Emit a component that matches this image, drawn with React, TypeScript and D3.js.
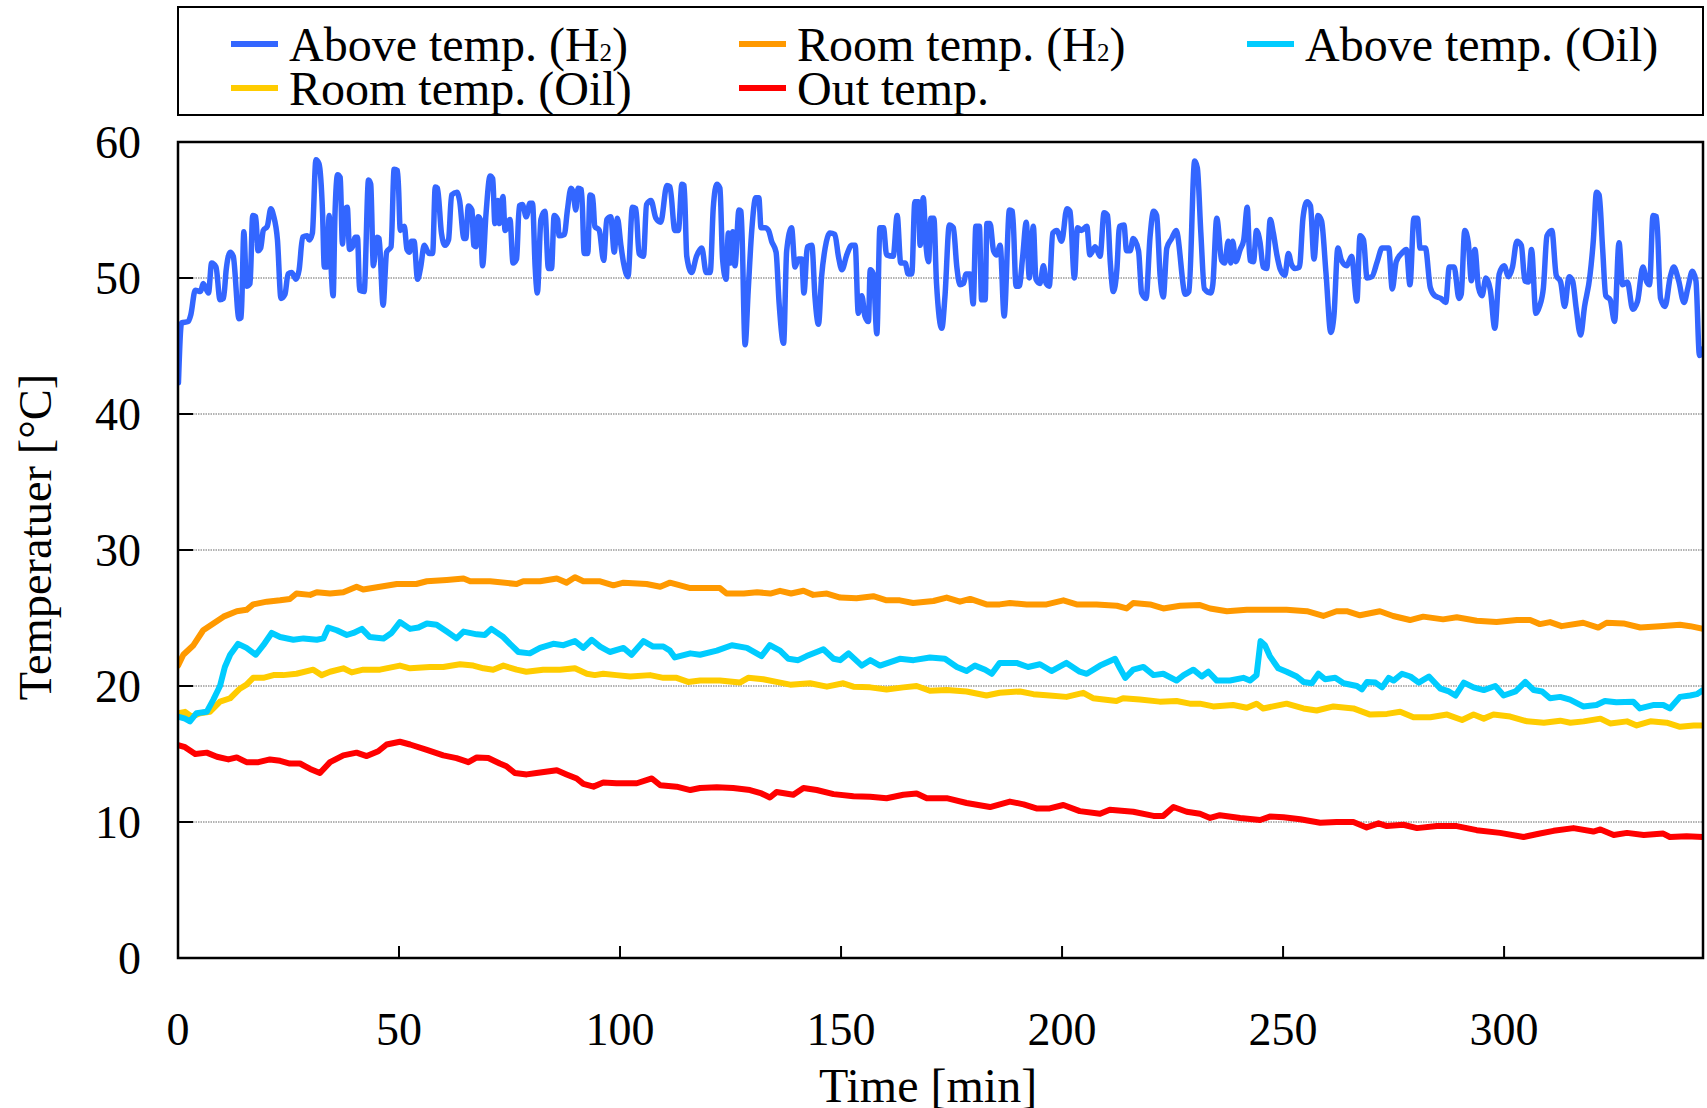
import React from 'react';
import * as d3 from 'd3';

// time [min], temperature [°C]
const aboveH2: [number, number][] = [
  [0.1, 42.3], [0.8, 46.7], [2.3, 46.8], [2.9, 47.3], [3.9, 49.1], [5.1, 49.0], [5.7, 49.6], [6.9, 48.9], [7.6, 51.1], [8.6, 50.8],
  [9.5, 48.4], [10.3, 48.5], [10.9, 50.6], [11.8, 51.9], [12.5, 51.6], [13.8, 47.0], [14.3, 47.1], [14.9, 53.4], [15.5, 49.4], [16.3, 49.6],
  [16.9, 54.6], [17.6, 54.5], [18.1, 52.0], [18.7, 52.2], [19.3, 53.5], [20.2, 53.8], [21.0, 55.1], [21.6, 54.6], [22.5, 52.8], [23.3, 48.5],
  [24.2, 48.8], [24.9, 50.3], [25.7, 50.4], [26.7, 49.9], [27.4, 50.6], [28.2, 53.0], [29.2, 53.1], [29.7, 52.8], [30.4, 53.3], [31.2, 58.7],
  [31.9, 58.4], [32.7, 54.8], [33.1, 50.8], [33.7, 50.8], [34.2, 54.6], [34.6, 51.1], [35.1, 48.7], [35.5, 54.5], [36.1, 57.6], [36.7, 57.4],
  [37.2, 52.5], [37.7, 55.0], [38.3, 55.2], [38.8, 52.1], [39.5, 52.3], [40.1, 53.0], [40.6, 53.0], [41.1, 49.1], [42.1, 49.0], [43.1, 57.2],
  [43.6, 56.9], [44.2, 50.9], [45.0, 53.0], [45.5, 52.9], [46.4, 48.0], [47.2, 51.9], [48.2, 52.3], [48.9, 58.0], [49.7, 57.9], [50.3, 53.5],
  [51.2, 53.8], [51.8, 52.1], [52.4, 51.9], [52.8, 52.7], [53.4, 52.7], [54.2, 49.9], [54.9, 50.8], [55.7, 52.4], [56.8, 51.8], [57.6, 51.8],
  [58.2, 56.7], [58.7, 56.6], [59.6, 53.3], [60.4, 52.4], [61.2, 52.8], [61.9, 56.1], [63.1, 56.3], [63.7, 55.7], [64.7, 52.9], [65.1, 52.9],
  [65.7, 55.3], [66.5, 55.0], [66.9, 52.4], [67.4, 52.3], [67.9, 54.5], [68.4, 54.3], [68.9, 50.9], [69.7, 54.8], [70.6, 57.5], [71.2, 57.3],
  [71.7, 54.0], [72.3, 55.7], [72.7, 54.0], [73.5, 56.0], [74.0, 53.5], [75.1, 54.3], [75.8, 51.1], [76.6, 51.4], [77.2, 55.3], [77.9, 55.4],
  [78.8, 54.5], [79.6, 55.5], [80.2, 55.5], [80.8, 50.8], [81.3, 48.9], [82.1, 54.3], [83.0, 54.9], [83.8, 50.7], [84.5, 50.7], [85.1, 54.6],
  [85.9, 54.3], [86.2, 53.1], [87.4, 53.2], [88.1, 55.0], [88.9, 56.6], [89.4, 56.3], [90.0, 55.0], [90.5, 56.6], [91.3, 56.5], [91.9, 51.8],
  [92.7, 51.8], [93.2, 56.1], [93.8, 56.0], [94.3, 53.8], [95.3, 53.5], [96.3, 51.3], [97.0, 54.3], [97.9, 54.5], [98.7, 51.9], [99.4, 54.4],
  [100.2, 52.4], [100.8, 51.1], [101.8, 50.1], [102.8, 55.2], [103.6, 55.1], [104.3, 51.8], [105.3, 51.6], [106.0, 55.4], [107.0, 55.7], [108.1, 54.4],
  [109.2, 54.1], [110.6, 56.8], [111.3, 56.7], [112.4, 53.5], [113.2, 53.5], [114.0, 56.9], [114.5, 56.8], [115.1, 51.6], [116.2, 50.4], [117.3, 51.6],
  [118.5, 52.2], [119.5, 50.4], [120.4, 50.4], [121.1, 55.2], [121.9, 56.9], [122.6, 56.6], [123.2, 51.4], [124.0, 49.9], [124.5, 53.3], [125.0, 51.1],
  [125.5, 53.4], [126.0, 50.9], [126.9, 55.0], [127.4, 54.9], [128.3, 45.1], [129.0, 49.1], [129.8, 53.5], [130.7, 55.9], [131.4, 55.9], [131.9, 53.7],
  [132.8, 53.7], [133.6, 53.5], [134.3, 52.7], [135.3, 51.9], [136.0, 48.1], [137.0, 45.2], [137.7, 52.0], [138.8, 53.7], [139.6, 50.8], [140.3, 51.4],
  [141.1, 51.4], [141.6, 48.9], [142.4, 52.3], [143.4, 52.4], [144.1, 48.6], [144.9, 46.6], [145.6, 50.1], [146.4, 52.2], [147.5, 53.3], [148.6, 53.2],
  [149.4, 51.6], [150.2, 50.6], [151.3, 51.7], [152.4, 52.4], [153.2, 52.4], [153.9, 47.4], [154.7, 48.7], [155.4, 47.2], [156.2, 46.8], [156.6, 50.6],
  [157.3, 50.3], [158.1, 45.9], [158.8, 53.7], [159.6, 53.7], [160.3, 51.7], [161.8, 51.6], [162.7, 54.6], [163.5, 51.1], [164.5, 51.1], [165.2, 50.3],
  [166.0, 50.3], [166.7, 55.6], [167.5, 55.6], [167.9, 52.4], [168.6, 55.9], [169.2, 52.5], [169.8, 51.2], [170.3, 54.4], [171.0, 54.4], [171.6, 49.6],
  [172.8, 46.3], [173.5, 48.6], [174.5, 53.9], [175.4, 53.7], [176.2, 50.8], [176.9, 49.5], [177.7, 49.6], [178.3, 50.3], [179.2, 50.3], [179.9, 48.1],
  [180.5, 53.8], [181.3, 53.8], [181.8, 48.4], [182.6, 48.4], [183.0, 54.0], [183.7, 54.0], [184.5, 52.0], [185.2, 51.7], [186.0, 52.4], [186.9, 47.2],
  [188.1, 55.0], [188.8, 54.9], [189.6, 49.4], [190.3, 49.4], [191.1, 51.6], [191.9, 54.1], [192.6, 50.0], [193.5, 53.8], [194.1, 49.9], [195.0, 49.6],
  [195.8, 50.9], [196.4, 49.6], [197.1, 49.4], [197.9, 53.3], [198.8, 53.5], [199.9, 52.7], [201.1, 55.1], [201.8, 54.9], [202.8, 50.0], [203.5, 53.7],
  [204.4, 53.5], [205.6, 53.8], [206.3, 51.7], [207.5, 52.3], [208.6, 51.6], [209.5, 54.8], [210.3, 54.6], [210.9, 51.2], [211.6, 49.0], [212.4, 50.6],
  [213.0, 53.8], [214.0, 53.9], [214.6, 52.0], [215.4, 52.0], [216.1, 52.9], [217.3, 52.0], [218.0, 48.9], [219.0, 48.5], [219.9, 53.0], [220.7, 54.9],
  [221.4, 54.6], [222.2, 50.1], [222.9, 48.6], [223.7, 52.2], [224.8, 52.9], [225.8, 53.5], [227.9, 48.8], [228.7, 49.0], [230.0, 58.6], [230.6, 58.1],
  [231.4, 53.3], [232.2, 49.2], [233.6, 48.9], [234.1, 49.5], [235.0, 54.4], [236.1, 51.3], [236.8, 51.1], [237.6, 52.7], [238.2, 51.1], [238.6, 52.7],
  [239.3, 51.2], [240.3, 52.1], [241.1, 52.8], [241.9, 55.2], [242.5, 51.3], [243.3, 51.2], [244.0, 53.5], [244.8, 52.6], [245.5, 50.8], [246.3, 50.7],
  [247.1, 54.3], [247.8, 53.3], [248.6, 51.7], [249.4, 50.6], [250.4, 50.2], [251.2, 51.8], [251.9, 51.0], [252.7, 50.7], [253.7, 50.8], [254.5, 54.4],
  [255.4, 55.6], [256.2, 55.3], [257.0, 51.4], [257.9, 54.6], [258.7, 54.2], [259.7, 50.4], [260.8, 46.0], [261.5, 47.2], [262.4, 52.2], [263.2, 51.3],
  [264.4, 50.9], [265.5, 51.6], [266.7, 48.3], [267.4, 53.1], [268.2, 52.8], [269.0, 50.0], [270.1, 50.1], [271.3, 51.2], [272.4, 52.2], [273.9, 52.2],
  [274.7, 49.2], [275.6, 51.2], [276.8, 51.8], [277.9, 52.1], [278.7, 49.5], [279.6, 54.4], [280.4, 54.4], [281.0, 52.2], [282.2, 52.2], [283.3, 49.3],
  [284.3, 48.7], [285.7, 48.5], [286.8, 48.2], [287.6, 50.8], [288.7, 50.8], [289.8, 48.5], [290.3, 48.8], [291.1, 53.5], [291.9, 52.6], [292.6, 49.8],
  [293.4, 52.1], [294.2, 49.3], [295.0, 48.7], [295.9, 50.0], [296.9, 49.1], [297.9, 46.3], [298.9, 50.3], [300.0, 50.9], [301.0, 50.1], [301.9, 50.8],
  [302.9, 52.7], [303.9, 52.4], [304.7, 49.8], [305.5, 49.7], [306.2, 52.1], [307.2, 47.4], [308.0, 47.9], [308.9, 49.3], [309.7, 53.1], [310.8, 53.5],
  [311.8, 50.2], [312.8, 49.7], [313.7, 47.9], [314.7, 50.1], [315.5, 49.8], [316.3, 47.8], [317.3, 45.8], [318.2, 47.9], [319.4, 50.1], [320.2, 52.8],
  [320.9, 56.3], [321.5, 56.1], [322.3, 52.1], [323.0, 48.7], [324.0, 48.4], [325.0, 46.8], [326.0, 52.6], [326.8, 49.5], [327.9, 49.7], [329.1, 47.7],
  [330.2, 48.3], [331.4, 50.8], [332.3, 49.7], [332.9, 49.5], [333.7, 54.6], [334.5, 54.5], [335.4, 48.5], [336.4, 47.9], [337.6, 50.1], [338.4, 50.8],
  [339.5, 49.8], [340.7, 48.2], [341.6, 49.3], [342.6, 50.5], [343.4, 49.8], [344.2, 44.3], [345, 44.8],
];

const roomH2: [number, number][] = [
  [0, 21.5], [1.2, 22.3], [3.5, 23.0], [5.7, 24.1], [8.0, 24.6], [10.3, 25.1], [13.3, 25.5], [15.5, 25.6], [17.0, 26.0], [20.1, 26.2],
  [23.1, 26.3], [25.3, 26.4], [26.8, 26.8], [29.9, 26.7], [31.4, 26.9], [34.4, 26.8], [37.4, 26.9], [40.4, 27.3], [41.9, 27.1], [45.7, 27.3],
  [49.5, 27.5], [53.9, 27.5], [56.3, 27.7], [60.8, 27.8], [64.6, 27.9], [66.1, 27.7], [70.6, 27.7], [76.6, 27.5], [78.1, 27.7], [81.9, 27.7],
  [85.7, 27.9], [87.9, 27.6], [89.8, 28.0], [91.7, 27.7], [95.5, 27.7], [98.5, 27.4], [100.8, 27.6], [106.0, 27.5], [109.1, 27.3], [111.3, 27.6],
  [115.9, 27.2], [118.1, 27.2], [122.6, 27.2], [124.1, 26.8], [128.0, 26.8], [131.0, 26.9], [134.0, 26.8], [136.2, 27.0], [138.7, 26.8], [141.5, 27.0],
  [143.7, 26.7], [146.8, 26.8], [149.8, 26.5], [153.5, 26.45], [157.3, 26.6], [160.3, 26.3], [163.3, 26.3], [166.3, 26.1], [170.9, 26.25], [173.9, 26.5],
  [176.9, 26.2], [179.2, 26.4], [182.9, 26.0], [185.9, 26.0], [188.2, 26.1], [192.0, 26.0], [196.5, 26.0], [200.3, 26.3], [203.3, 26.0], [207.8, 26.0],
  [212.4, 25.9], [214.6, 25.7], [216.1, 26.1], [219.9, 26.0], [222.9, 25.7], [226.7, 25.9], [231.2, 25.95], [233.5, 25.7], [237.3, 25.5], [241.8, 25.6],
  [246.3, 25.6], [250.8, 25.6], [255.4, 25.5], [259.1, 25.15], [262.1, 25.5], [264.4, 25.5], [267.4, 25.2], [271.9, 25.5], [274.9, 25.15], [278.7, 24.85],
  [281.7, 25.1], [286.2, 24.9], [289.3, 25.05], [293.8, 24.8], [298.3, 24.7], [302.9, 24.85], [305.9, 24.85], [308.1, 24.55], [310.4, 24.7], [313.0, 24.4],
  [317.9, 24.65], [321.3, 24.3], [323.2, 24.65], [327.0, 24.6], [330.8, 24.3], [335.3, 24.4], [339.8, 24.5], [342.1, 24.4], [345, 24.2],
];

const aboveOil: [number, number][] = [
  [0, 17.75], [1.6, 17.6], [2.7, 17.4], [4.2, 18.0], [6.5, 18.1], [8.0, 19.0], [9.5, 20.0], [10.6, 21.4], [11.8, 22.3], [13.6, 23.1],
  [15.5, 22.8], [17.6, 22.3], [19.3, 23.0], [21.2, 23.9], [23.1, 23.6], [26.1, 23.4], [28.4, 23.5], [31.4, 23.4], [32.9, 23.5], [34.0, 24.3],
  [35.9, 24.1], [38.2, 23.75], [39.7, 23.9], [41.6, 24.2], [43.4, 23.6], [46.5, 23.5], [48.3, 23.9], [50.2, 24.7], [52.5, 24.2], [54.4, 24.3],
  [56.3, 24.6], [58.5, 24.5], [60.8, 24.0], [63.0, 23.5], [64.6, 24.0], [67.6, 23.8], [69.4, 23.75], [70.9, 24.2], [73.6, 23.6], [75.1, 23.1],
  [77.0, 22.5], [79.6, 22.4], [81.9, 22.8], [84.9, 23.1], [87.2, 23.0], [89.8, 23.3], [91.7, 22.8], [93.6, 23.4], [95.5, 22.9], [97.7, 22.5],
  [100.8, 22.8], [102.6, 22.3], [105.3, 23.3], [107.5, 22.9], [109.8, 22.9], [111.3, 22.6], [112.4, 22.1], [115.9, 22.4], [118.1, 22.3], [121.9, 22.6],
  [125.3, 23.0], [128.7, 22.8], [132.0, 22.2], [133.9, 23.0], [136.2, 22.6], [138.1, 22.0], [140.3, 21.9], [142.2, 22.2], [144.5, 22.5], [146.0, 22.7],
  [148.3, 22.0], [149.8, 21.9], [151.7, 22.4], [154.7, 21.5], [156.6, 21.9], [158.8, 21.5], [163.3, 22.0], [166.4, 21.9], [170.1, 22.1], [173.5, 22.0],
  [176.2, 21.4], [178.4, 21.1], [180.3, 21.5], [182.6, 21.2], [184.1, 20.9], [185.9, 21.7], [189.7, 21.7], [192.3, 21.4], [195.0, 21.6], [197.6, 21.1],
  [201.0, 21.7], [204.0, 21.05], [205.6, 20.9], [208.6, 21.5], [212.0, 22.0], [213.1, 21.3], [214.3, 20.6], [216.1, 21.2], [218.4, 21.4], [220.7, 20.8],
  [222.9, 20.9], [225.9, 20.4], [227.5, 20.8], [229.7, 21.2], [231.6, 20.7], [233.1, 21.05], [235.0, 20.4], [238.0, 20.4], [241.0, 20.6], [242.5, 20.4],
  [244.0, 20.8], [244.9, 23.3], [245.9, 23.0], [247.0, 22.2], [248.9, 21.3], [250.8, 21.05], [253.1, 20.7], [254.6, 20.3], [256.5, 20.2], [258.0, 20.9],
  [259.5, 20.5], [261.8, 20.6], [263.7, 20.2], [266.7, 20.0], [267.8, 19.75], [269.0, 20.3], [270.9, 20.25], [272.4, 19.9], [273.9, 20.6], [275.0, 20.4],
  [276.9, 20.9], [278.8, 20.7], [280.7, 20.25], [283.0, 20.7], [285.6, 19.8], [287.5, 19.6], [289.0, 19.3], [290.9, 20.25], [293.1, 19.9], [295.4, 19.7],
  [298.0, 20.0], [299.9, 19.3], [302.6, 19.6], [304.8, 20.3], [306.7, 19.7], [308.6, 19.6], [310.4, 19.1], [312.7, 19.2], [314.9, 19.0], [317.9, 18.5],
  [320.9, 18.6], [322.8, 18.9], [325.4, 18.8], [329.2, 18.85], [330.7, 18.35], [333.7, 18.6], [336.0, 18.6], [337.5, 18.35], [339.8, 19.2], [342.1, 19.3],
  [343.6, 19.4], [345, 19.7],
];

const roomOil: [number, number][] = [
  [0, 18.0], [1.6, 18.1], [3.1, 17.75], [5.0, 18.0], [7.2, 18.1], [9.5, 18.85], [11.8, 19.1], [14.0, 19.8], [15.5, 20.1], [17.0, 20.6],
  [19.3, 20.6], [21.6, 20.8], [23.8, 20.8], [26.8, 20.9], [30.6, 21.2], [32.5, 20.8], [34.4, 21.05], [37.4, 21.3], [39.3, 21.0], [41.9, 21.2],
  [45.7, 21.2], [50.2, 21.5], [52.5, 21.3], [57.0, 21.4], [60.0, 21.4], [63.8, 21.6], [66.8, 21.5], [69.1, 21.3], [71.3, 21.2], [73.6, 21.5],
  [76.6, 21.2], [78.8, 21.05], [82.6, 21.2], [86.4, 21.2], [89.8, 21.3], [92.5, 20.9], [94.3, 20.8], [96.2, 20.9], [99.2, 20.8], [102.3, 20.7],
  [106.8, 20.8], [109.8, 20.6], [112.8, 20.6], [115.4, 20.3], [118.1, 20.4], [122.6, 20.4], [127.1, 20.25], [129.0, 20.6], [132.4, 20.5], [135.4, 20.3],
  [138.5, 20.1], [143.0, 20.2], [146.8, 19.95], [150.5, 20.2], [152.8, 19.95], [156.6, 19.9], [160.3, 19.75], [164.1, 19.9], [167.1, 20.0], [170.1, 19.65],
  [173.9, 19.7], [178.4, 19.6], [182.9, 19.3], [185.9, 19.5], [190.5, 19.6], [193.5, 19.4], [197.2, 19.3], [201.0, 19.2], [204.8, 19.5], [207.0, 19.1],
  [212.3, 18.9], [213.8, 19.1], [217.6, 19.0], [222.1, 18.85], [225.9, 18.9], [228.9, 18.7], [231.2, 18.7], [234.2, 18.5], [238.7, 18.6], [241.8, 18.4],
  [244.0, 18.7], [245.5, 18.35], [250.8, 18.7], [254.6, 18.35], [257.6, 18.2], [261.4, 18.5], [265.9, 18.35], [269.7, 17.9], [273.5, 17.95], [276.5, 18.1],
  [279.5, 17.7], [283.3, 17.7], [287.1, 17.9], [290.5, 17.5], [293.1, 17.9], [295.4, 17.6], [297.6, 17.9], [301.4, 17.75], [305.2, 17.4], [309.0, 17.3],
  [312.7, 17.45], [315.0, 17.3], [318.0, 17.4], [321.8, 17.6], [324.0, 17.25], [327.8, 17.4], [330.0, 17.1], [333.1, 17.4], [336.8, 17.3], [339.8, 17.0],
  [342.9, 17.1], [345, 17.1],
];

const outTemp: [number, number][] = [
  [0, 15.66], [1.6, 15.5], [3.9, 15.0], [6.5, 15.1], [8.8, 14.8], [11.4, 14.6], [13.3, 14.75], [15.5, 14.4], [18.2, 14.4], [20.8, 14.6],
  [23.1, 14.5], [25.3, 14.3], [27.6, 14.3], [29.9, 13.9], [32.1, 13.6], [34.4, 14.4], [37.4, 14.9], [40.4, 15.1], [42.7, 14.85], [45.3, 15.2],
  [47.2, 15.7], [50.2, 15.9], [52.5, 15.7], [56.3, 15.3], [60.0, 14.9], [63.0, 14.7], [65.7, 14.4], [67.6, 14.75], [70.2, 14.7], [72.8, 14.3],
  [74.3, 14.1], [76.2, 13.6], [78.9, 13.5], [81.1, 13.6], [85.7, 13.8], [87.9, 13.5], [90.2, 13.2], [91.7, 12.8], [94.0, 12.6], [96.2, 12.9],
  [99.2, 12.85], [103.8, 12.85], [107.2, 13.2], [109.1, 12.7], [112.8, 12.6], [115.9, 12.35], [118.1, 12.5], [121.9, 12.55], [125.6, 12.5], [129.4, 12.35],
  [132.0, 12.1], [133.9, 11.8], [135.4, 12.2], [139.2, 12.0], [141.5, 12.5], [144.5, 12.35], [148.3, 12.05], [152.8, 11.9], [156.6, 11.85], [160.3, 11.75],
  [164.1, 12.0], [167.1, 12.1], [169.4, 11.75], [173.9, 11.75], [178.4, 11.4], [183.7, 11.1], [188.2, 11.5], [191.3, 11.3], [194.2, 11.0], [197.2, 11.0],
  [200.3, 11.25], [204.0, 10.8], [208.6, 10.6], [210.8, 10.9], [216.1, 10.75], [220.7, 10.45], [222.9, 10.45], [225.2, 11.1], [228.2, 10.75], [231.2, 10.6],
  [233.5, 10.3], [235.7, 10.5], [240.3, 10.3], [244.8, 10.15], [247.0, 10.4], [250.1, 10.35], [253.9, 10.2], [258.4, 9.95], [262.1, 10.0], [265.9, 10.0],
  [268.9, 9.6], [271.6, 9.9], [273.5, 9.7], [277.2, 9.8], [280.3, 9.55], [284.8, 9.7], [289.3, 9.7], [293.8, 9.4], [299.1, 9.2], [304.4, 8.9],
  [308.1, 9.15], [311.2, 9.35], [315.7, 9.55], [320.2, 9.3], [321.8, 9.45], [324.8, 9.05], [327.8, 9.2], [331.6, 9.05], [336.0, 9.15], [337.5, 8.9],
  [341.3, 8.95], [345, 8.9],
];

const xTicks = [0, 50, 100, 150, 200, 250, 300];
const yTicks = [0, 10, 20, 30, 40, 50, 60];

const seriesList = [
  { name: 'Above temp. (H', sub: '2', data: aboveH2, color: '#3366ff', curve: d3.curveMonotoneX, width: 5.5 },
  { name: 'Room temp. (H', sub: '2', data: roomH2, color: '#ff9900', curve: d3.curveLinear, width: 6 },
  { name: 'Above temp. (Oil)', sub: '', data: aboveOil, color: '#00ccff', curve: d3.curveLinear, width: 6 },
  { name: 'Room temp. (Oil)', sub: '', data: roomOil, color: '#ffcc00', curve: d3.curveLinear, width: 6 },
  { name: 'Out temp.', sub: '', data: outTemp, color: '#ff0000', curve: d3.curveLinear, width: 6 },
];

const W = 1707;
const H = 1108;
const plot = { left: 178, right: 1703, top: 142, bottom: 958 };
const font = '"Liberation Serif", "Times New Roman", serif';

export default function App() {
  const x = d3.scaleLinear().domain([0, 345]).range([plot.left, plot.right]);
  const y = d3.scaleLinear().domain([0, 60]).range([plot.bottom, plot.top]);

  // legend slots: 3 columns, 2 rows
  const legendCols = [231, 739, 1247];
  const legendRows = [44, 88];

  // bottom series first so blue sits on top
  const drawOrder = [4, 3, 2, 1, 0];

  return (
    <div style={{ position: 'absolute', left: 0, top: 0 }}>
      <svg width={W} height={H} style={{ display: 'block', background: '#fff' }} fontFamily={font}>
        <defs>
          <clipPath id="plotClip">
            <rect x={plot.left} y={plot.top} width={plot.right - plot.left} height={plot.bottom - plot.top} />
          </clipPath>
        </defs>

        {/* grid lines */}
        {yTicks.filter(t => t > 0 && t < 60).map(t => (
          <line key={'g' + t} x1={plot.left} x2={plot.right} y1={y(t)} y2={y(t)}
            stroke="#9a9a9a" strokeWidth={1.5} strokeDasharray="1.5,1" />
        ))}

        {/* series */}
        <g clipPath="url(#plotClip)">
          {drawOrder.map(i => {
            const s = seriesList[i];
            const line = d3.line<[number, number]>()
              .x(d => x(d[0]))
              .y(d => y(d[1]))
              .curve(s.curve);
            return (
              <path key={s.name + i} d={line(s.data) || ''} fill="none" stroke={s.color}
                strokeWidth={s.width} strokeLinejoin="round" strokeLinecap="round" />
            );
          })}
        </g>

        {/* ticks, inside */}
        {yTicks.filter(t => t > 0 && t < 60).map(t => (
          <line key={'yt' + t} x1={plot.left} x2={plot.left + 15} y1={y(t)} y2={y(t)} stroke="#000" strokeWidth={2} />
        ))}
        {xTicks.filter(t => t > 0).map(t => (
          <line key={'xt' + t} x1={x(t)} x2={x(t)} y1={plot.bottom} y2={plot.bottom - 12} stroke="#000" strokeWidth={2} />
        ))}

        {/* frame */}
        <rect x={plot.left} y={plot.top} width={plot.right - plot.left} height={plot.bottom - plot.top}
          fill="none" stroke="#000" strokeWidth={2.5} />

        {/* tick labels */}
        {yTicks.map(t => (
          <text key={'yl' + t} x={141} y={y(t) + 16} textAnchor="end" fontSize={46} fill="#000">{t}</text>
        ))}
        {xTicks.map(t => (
          <text key={'xl' + t} x={x(t)} y={1045} textAnchor="middle" fontSize={46} fill="#000">{t}</text>
        ))}

        {/* axis titles */}
        <text x={928} y={1102} textAnchor="middle" fontSize={48} fill="#000">Time [min]</text>
        <text transform="translate(51,537) rotate(-90)" textAnchor="middle" fontSize={46.5} fill="#000">
          Temperatuer [°C]
        </text>

        {/* legend */}
        <rect x={178} y={7} width={1525} height={108} fill="#fff" stroke="#000" strokeWidth={2} />
        {seriesList.map((s, i) => {
          const cx = legendCols[i % 3];
          const cy = legendRows[Math.floor(i / 3)];
          return (
            <g key={'lg' + i}>
              <line x1={cx} x2={cx + 47} y1={cy} y2={cy} stroke={s.color} strokeWidth={6} />
              <text x={cx + 58} y={cy + 17} fontSize={48} fill="#000">
                {s.name}
                {s.sub ? <tspan fontSize={25}>{s.sub}</tspan> : null}
                {s.sub ? ')' : null}
              </text>
            </g>
          );
        })}
      </svg>
    </div>
  );
}
